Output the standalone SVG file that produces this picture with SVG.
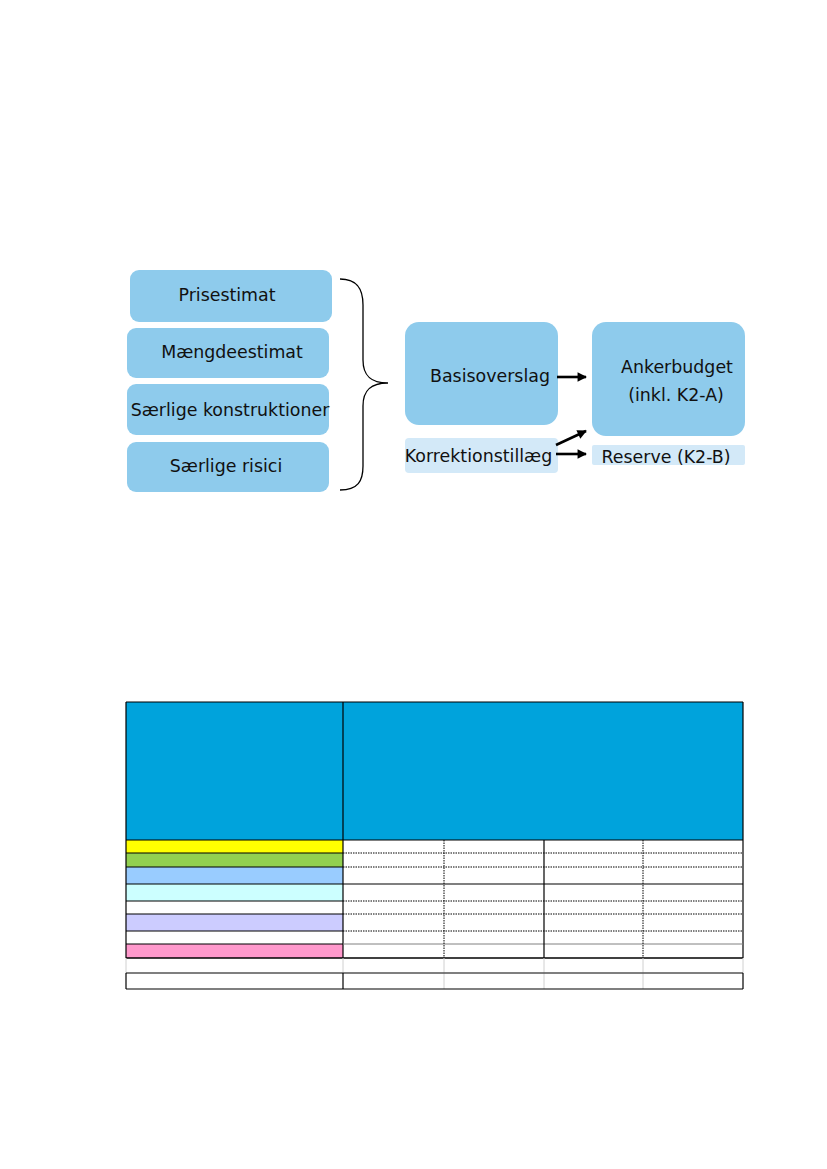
<svg xmlns="http://www.w3.org/2000/svg" width="827" height="1169" viewBox="0 0 827 1169">
<style>
.box{fill:#8ecbec;}
.lt{fill:#d3e9f8;}
.t{font-family:"DejaVu Sans",Verdana,sans-serif;font-size:17.4px;fill:#111;}
.c{stroke:#000;stroke-width:2.6;fill:none;}
.dot{stroke:#000;stroke-width:1;stroke-dasharray:1.5 1;fill:none;}
.sol{stroke:#000;stroke-width:1.2;fill:none;}
.gr{stroke:#d0d0d0;stroke-width:1;fill:none;}
</style>
<defs>
<marker id="ah" viewBox="0 0 10 10" refX="9" refY="5" markerWidth="4" markerHeight="3.6" orient="auto" markerUnits="strokeWidth">
<path d="M0,0 L10,5 L0,10 z" fill="#000"/>
</marker>
</defs>
<rect width="827" height="1169" fill="#fff"/>
<g id="prisestimat"><rect class="box" x="130" y="270" width="202" height="52" rx="9"/><text class="t" x="227" y="301" text-anchor="middle">Prisestimat</text></g>
<g id="maengdeestimat"><rect class="box" x="127" y="328" width="202" height="50" rx="9"/><text class="t" x="232" y="358" text-anchor="middle">Mængdeestimat</text></g>
<g id="saerlige-konstruktioner"><rect class="box" x="127" y="384" width="202" height="51" rx="9"/><text class="t" x="230" y="416" text-anchor="middle">Særlige konstruktioner</text></g>
<g id="saerlige-risici"><rect class="box" x="127" y="442" width="202" height="50" rx="9"/><text class="t" x="226" y="472" text-anchor="middle">Særlige risici</text></g>
<g id="brace"><path d="M340,279 C358,279 363,290 363,305 L363,360 C363,375 370,383 388,383 C370,383 363,391 363,406 L363,466 C363,481 358,490 340,490" fill="none" stroke="#000" stroke-width="1.3"/></g>
<g id="basisoverslag"><rect class="box" x="405" y="322" width="153" height="103" rx="14"/><text class="t" x="490" y="382" text-anchor="middle">Basisoverslag</text></g>
<g id="ankerbudget"><rect class="box" x="592" y="322" width="153" height="114" rx="14"/><text class="t" x="677" y="373" text-anchor="middle">Ankerbudget</text><text class="t" x="676" y="401" text-anchor="middle">(inkl. K2-A)</text></g>
<g id="korrektionstillaeg"><rect class="lt" x="405" y="438" width="153" height="35" rx="4"/><text class="t" x="478.5" y="462" text-anchor="middle">Korrektionstillæg</text></g>
<g id="reserve"><rect class="lt" x="592" y="445" width="153" height="20" rx="2"/><text class="t" x="666" y="463" text-anchor="middle">Reserve (K2-B)</text></g>
<g id="connectors">
<line class="c" x1="557" y1="377" x2="586" y2="377" marker-end="url(#ah)"/>
<line class="c" x1="556" y1="445" x2="586" y2="431" marker-end="url(#ah)"/>
<line class="c" x1="556" y1="454" x2="586" y2="454" marker-end="url(#ah)"/>
</g>
<g id="table">
<rect x="126" y="702" width="617" height="138" fill="#00a3dc"/>
<rect x="126" y="840" width="217" height="13" fill="#ffff00"/>
<rect x="126" y="853" width="217" height="14" fill="#92d050"/>
<rect x="126" y="867" width="217" height="17" fill="#99ccff"/>
<rect x="126" y="884" width="217" height="17" fill="#ccffff"/>
<rect x="126" y="914" width="217" height="17" fill="#ccccff"/>
<rect x="126" y="944" width="217" height="14" fill="#ff99cc"/>
<line class="sol" x1="126" y1="702" x2="743" y2="702"/>
<line class="sol" x1="126" y1="702" x2="126" y2="958"/>
<line class="sol" x1="343" y1="702" x2="343" y2="958"/>
<line class="sol" x1="743" y1="702" x2="743" y2="958"/>
<line class="sol" x1="126" y1="840" x2="743" y2="840"/>
<line class="sol" x1="126" y1="853" x2="343" y2="853"/>
<line class="sol" x1="126" y1="867" x2="343" y2="867"/>
<line class="sol" x1="126" y1="884" x2="743" y2="884"/>
<line class="sol" x1="126" y1="901" x2="343" y2="901"/>
<line class="sol" x1="126" y1="914" x2="343" y2="914"/>
<line class="sol" x1="126" y1="931" x2="343" y2="931"/>
<line class="sol" x1="126" y1="944" x2="343" y2="944"/>
<line class="dot" x1="343" y1="853" x2="743" y2="853"/>
<line class="dot" x1="343" y1="867" x2="743" y2="867"/>
<line class="dot" x1="343" y1="901" x2="743" y2="901"/>
<line class="dot" x1="343" y1="914" x2="743" y2="914"/>
<line class="dot" x1="343" y1="931" x2="743" y2="931"/>
<line x1="343" y1="944" x2="743" y2="944" stroke="#808080" stroke-width="1"/>
<line class="dot" x1="444" y1="840" x2="444" y2="958"/>
<line class="sol" x1="544" y1="840" x2="544" y2="958"/>
<line class="dot" x1="643" y1="840" x2="643" y2="958"/>
<line x1="126" y1="958" x2="743" y2="958" stroke="#000" stroke-width="1.4"/>
<line class="gr" x1="126" y1="958" x2="126" y2="973"/>
<line class="gr" x1="343" y1="958" x2="343" y2="973"/>
<line class="gr" x1="444" y1="958" x2="444" y2="989"/>
<line class="gr" x1="544" y1="958" x2="544" y2="989"/>
<line class="gr" x1="643" y1="958" x2="643" y2="989"/>
<line class="gr" x1="743" y1="958" x2="743" y2="973"/>
<line x1="126" y1="973" x2="743" y2="973" stroke="#555" stroke-width="1.5"/>
<line class="sol" x1="126" y1="973" x2="126" y2="989"/>
<line class="sol" x1="343" y1="973" x2="343" y2="989"/>
<line class="sol" x1="743" y1="973" x2="743" y2="989"/>
<line class="sol" x1="126" y1="989" x2="743" y2="989"/>
</g>
</svg>
